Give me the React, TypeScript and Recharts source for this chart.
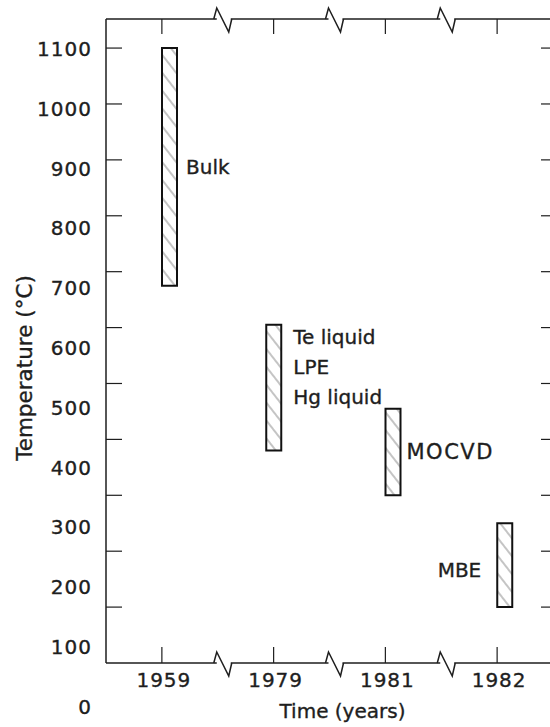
import React from 'react';
import { ComposedChart, Bar, XAxis, YAxis, LabelList, Label, Rectangle } from 'recharts';

// ---- data ----
const years = ['1959', '1979', '1981', '1982'];
const tempLow = [675, 380, 300, 100];
const tempHigh = [1100, 605, 455, 250];
const methodLabels = ['Bulk', 'Te liquid|LPE|Hg liquid', 'MOCVD', 'MBE'];
const labelSides = ['right', 'right', 'right', 'left'];
const yTickLabels = [0, 100, 200, 300, 400, 500, 600, 700, 800, 900, 1000, 1100];
const yTickMarks = [100, 200, 300, 400, 500, 600, 700, 800, 900, 1000, 1100];
const yDomain: [number, number] = [0, 1152];

// style: the 1979 bar is drawn centred on its tick, the others start at the tick
const barCentered = [false, true, false, false];

const data = years.map((year, i) => ({
  year,
  range: [tempLow[i], tempHigh[i]],
  pad: null,
  label: methodLabels[i],
}));

const FONT = '"DejaVu Sans", Verdana, sans-serif';
const INK = '#1e1e1e';
const AXIS_W = 1.5;
const TEXT_STROKE = { stroke: INK, strokeWidth: 0.35 } as any;

const TOP_TICK = 15;
const BOTTOM_TICK = 16;

const YLabelTick = (props: any) => {
  const { x, y, payload } = props;
  const v = Number(payload.value);
  const drift = 1 + (1100 - v) * 0.039;
  return (
    <text
      x={x}
      y={y + drift}
      textAnchor="end"
      dominantBaseline="central"
      fontFamily={FONT}
      fontSize={20}
      letterSpacing={1}
      fill={INK}
      {...TEXT_STROKE}
    >
      {v}
    </text>
  );
};

const XLabelTick = (props: any) => {
  const { x, y, payload } = props;
  return (
    <text x={x + 2} y={y} dy={14} textAnchor="middle" fontFamily={FONT} fontSize={20} letterSpacing={1} fill={INK} {...TEXT_STROKE}>
      {payload.value}
    </text>
  );
};

const makeBreakTick = (lineShift: number) => (props: any) => {
  const { x, y, payload, index } = props;
  const idx = index ?? payload?.index ?? 0;
  if (idx >= years.length - 1) return <g />;
  const axisY = y + lineShift;
  const half = payload?.offset ?? 56;
  const bx = x + half + 5;
  return (
    <g>
      <line x1={bx - 6} x2={bx + 8} y1={axisY} y2={axisY} stroke="#fff" strokeWidth={4} />
      <polyline
        points={`${bx - 9},${axisY} ${bx - 6},${axisY - 11} ${bx + 6},${axisY + 13} ${bx + 9},${axisY}`}
        fill="none"
        stroke={INK}
        strokeWidth={AXIS_W}
        strokeLinejoin="miter"
      />
    </g>
  );
};

const TopBreakTick = makeBreakTick(-TOP_TICK);
const BottomBreakTick = makeBreakTick(BOTTOM_TICK);

const RangeShape = (props: any) => {
  const { x, width, index } = props;
  const shift = barCentered[index] ? -width / 2 : 0;
  return <Rectangle {...props} x={x + shift} />;
};

const Annotation = (props: any) => {
  const { x, y, width, height, value, index } = props;
  const top = Math.min(y, y + height);
  const h = Math.abs(height);
  const side = labelSides[index];
  const bx = x + (barCentered[index] ? -width / 2 : 0);
  const lines = String(value).split('|');
  const tx = side === 'left' ? bx - 16 : bx + width + 9;
  const anchor = side === 'left' ? 'end' : 'start';
  const common = { fontFamily: FONT, fontSize: 20, fill: INK, ...TEXT_STROKE } as any;
  if (lines.length > 1) {
    return (
      <g>
        {lines.map((ln, i) => (
          <text key={i} x={tx + 3} y={top + 12 + i * 30} textAnchor={anchor} dominantBaseline="central" {...common}>
            {ln}
          </text>
        ))}
      </g>
    );
  }
  const isWide = lines[0] === 'MOCVD';
  return (
    <text
      x={isWide ? tx - 3 : tx}
      y={top + h / 2 + (side === 'left' ? 5 : 0)}
      textAnchor={anchor}
      dominantBaseline="central"
      letterSpacing={isWide ? 1.5 : 0}
      {...common}
      fontSize={isWide ? 21 : 20}
    >
      {lines[0]}
    </text>
  );
};

const YTitle = (props: any) => {
  const vb = props.viewBox || { x: 46, y: 19, width: 60, height: 644 };
  const cx = vb.x - 22;
  const cy = vb.y + vb.height / 2 + 27;
  return (
    <text
      x={cx}
      y={cy}
      transform={`rotate(-90, ${cx}, ${cy})`}
      textAnchor="middle"
      dominantBaseline="central"
      fontFamily={FONT}
      fontSize={21.5}
      fill={INK}
      {...TEXT_STROKE}
    >
      Temperature (°C)
    </text>
  );
};

const XTitle = (props: any) => {
  const vb = props.viewBox || { x: 106, y: 663, width: 447, height: 30 };
  return (
    <text
      x={vb.x + vb.width / 2 + 13}
      y={vb.y + 55}
      textAnchor="middle"
      fontFamily={FONT}
      fontSize={20}
      fill={INK}
      {...TEXT_STROKE}
    >
      Time (years)
    </text>
  );
};

export default function App() {
  return (
    <div
      style={{
        position: 'fixed',
        left: 0,
        top: 0,
        width: 550,
        height: 727,
        overflow: 'hidden',
        background: '#fff',
      }}
    >
      <ComposedChart
        width={560}
        height={727}
        data={data}
        margin={{ top: 19, right: 7, bottom: 34, left: 46 }}
        barGap={0}
        barCategoryGap={0}
      >
        <defs>
          <pattern
            id="hatch"
            patternUnits="userSpaceOnUse"
            width={10}
            height={11}
            patternTransform="rotate(52)"
          >
            <line x1={0} y1={5} x2={10} y2={5} stroke="#8a8a8a" strokeWidth={1} />
          </pattern>
        </defs>

        <XAxis
          xAxisId="years"
          dataKey="year"
          orientation="bottom"
          height={30}
          axisLine={false}
          tickLine={false}
          tickSize={0}
          tickMargin={10}
          interval={0}
          tick={<XLabelTick />}
        >
          <Label content={<XTitle />} />
        </XAxis>
        <XAxis
          xAxisId="bt"
          dataKey="year"
          orientation="bottom"
          mirror
          tickSize={BOTTOM_TICK}
          tickMargin={0}
          interval={0}
          axisLine={{ stroke: INK, strokeWidth: AXIS_W }}
          tickLine={{ stroke: INK, strokeWidth: 1.2 }}
          tick={<BottomBreakTick />}
        />
        <XAxis
          xAxisId="tp"
          dataKey="year"
          orientation="top"
          mirror
          tickSize={TOP_TICK}
          tickMargin={0}
          interval={0}
          axisLine={{ stroke: INK, strokeWidth: AXIS_W }}
          tickLine={{ stroke: INK, strokeWidth: 1.2 }}
          tick={<TopBreakTick />}
        />

        <YAxis
          yAxisId="val"
          type="number"
          domain={yDomain}
          allowDataOverflow
          ticks={yTickLabels}
          interval={0}
          width={60}
          axisLine={false}
          tickLine={false}
          tickSize={0}
          tickMargin={14}
          tick={<YLabelTick />}
        >
          <Label content={<YTitle />} />
        </YAxis>
        <YAxis
          yAxisId="lt"
          type="number"
          domain={yDomain}
          allowDataOverflow
          ticks={yTickMarks}
          interval={0}
          orientation="left"
          mirror
          tickSize={16}
          tickMargin={0}
          tick={() => <g />}
          axisLine={{ stroke: INK, strokeWidth: AXIS_W }}
          tickLine={{ stroke: INK, strokeWidth: 1.2 }}
        />
        <YAxis
          yAxisId="rt"
          type="number"
          domain={yDomain}
          allowDataOverflow
          ticks={yTickMarks}
          interval={0}
          orientation="right"
          mirror
          tickSize={12}
          tickMargin={0}
          tick={() => <g />}
          axisLine={{ stroke: INK, strokeWidth: AXIS_W }}
          tickLine={{ stroke: INK, strokeWidth: 1.2 }}
        />

        <Bar
          xAxisId="years"
          yAxisId="val"
          dataKey="pad"
          barSize={15}
          fill="none"
          isAnimationActive={false}
        />
        <Bar
          xAxisId="years"
          yAxisId="val"
          dataKey="range"
          barSize={15}
          fill="url(#hatch)"
          stroke="#111"
          strokeWidth={2}
          shape={<RangeShape />}
          isAnimationActive={false}
        >
          <LabelList dataKey="label" content={<Annotation />} />
        </Bar>
      </ComposedChart>
    </div>
  );
}
